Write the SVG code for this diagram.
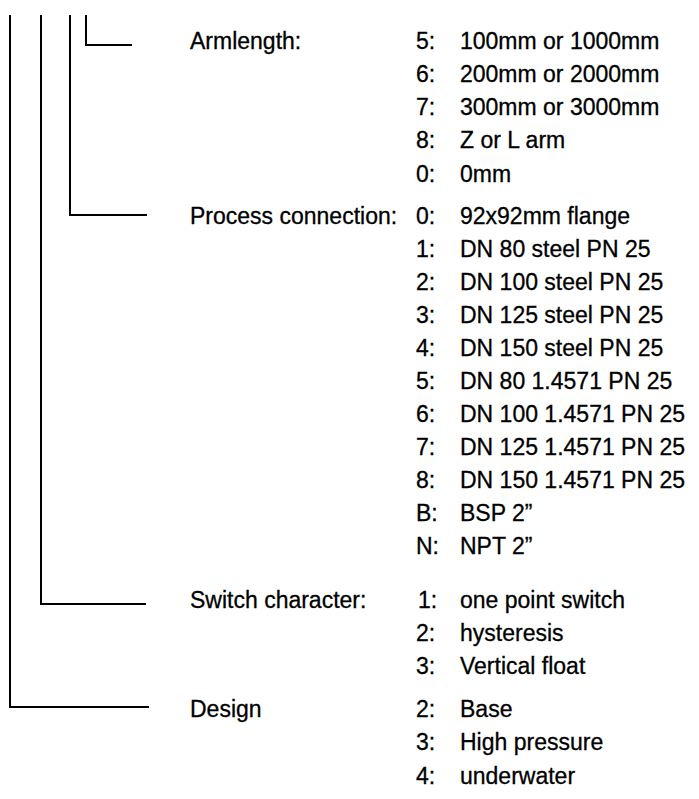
<svg xmlns="http://www.w3.org/2000/svg" width="699" height="799" viewBox="0 0 699 799">
<style>
.ln{fill:none;stroke:#000;stroke-width:2}
text{font-family:"Liberation Sans",Arial,sans-serif;font-size:23px;fill:#000;stroke:#000;stroke-width:0.3}
</style>
<rect width="699" height="799" fill="#fff"/>
<g id="connectors">
<polyline class="ln" points="86,15 86,45 132,45"/>
<polyline class="ln" points="70,15 70,215 147,215"/>
<polyline class="ln" points="41,15 41,604 146,604"/>
<polyline class="ln" points="10,15 10,707 149,707"/>
</g>
<g id="armlength">
<text x="190" y="49">Armlength:</text>
<text x="416" y="49">5:</text><text x="460" y="49">100mm or 1000mm</text>
<text x="416" y="82">6:</text><text x="460" y="82">200mm or 2000mm</text>
<text x="416" y="115">7:</text><text x="460" y="115">300mm or 3000mm</text>
<text x="416" y="148">8:</text><text x="460" y="148">Z or L arm</text>
<text x="416" y="182">0:</text><text x="460" y="182">0mm</text>
</g>
<g id="process">
<text x="190" y="224">Process connection:</text>
<text x="416" y="224">0:</text><text x="460" y="224">92x92mm flange</text>
<text x="416" y="257">1:</text><text x="460" y="257">DN 80 steel PN 25</text>
<text x="416" y="290">2:</text><text x="460" y="290">DN 100 steel PN 25</text>
<text x="416" y="323">3:</text><text x="460" y="323">DN 125 steel PN 25</text>
<text x="416" y="356">4:</text><text x="460" y="356">DN 150 steel PN 25</text>
<text x="416" y="389">5:</text><text x="460" y="389">DN 80 1.4571 PN 25</text>
<text x="416" y="422">6:</text><text x="460" y="422">DN 100 1.4571 PN 25</text>
<text x="416" y="455">7:</text><text x="460" y="455">DN 125 1.4571 PN 25</text>
<text x="416" y="488">8:</text><text x="460" y="488">DN 150 1.4571 PN 25</text>
<text x="416" y="521">B:</text><text x="460" y="521">BSP 2”</text>
<text x="416" y="554">N:</text><text x="460" y="554">NPT 2”</text>
</g>
<g id="switch">
<text x="190" y="608">Switch character:</text>
<text x="418" y="608">1:</text><text x="460" y="608">one point switch</text>
<text x="416" y="641">2:</text><text x="460" y="641">hysteresis</text>
<text x="416" y="674">3:</text><text x="460" y="674">Vertical float</text>
</g>
<g id="design">
<text x="190" y="717">Design</text>
<text x="416" y="717">2:</text><text x="460" y="717">Base</text>
<text x="416" y="750">3:</text><text x="460" y="750">High pressure</text>
<text x="416" y="784">4:</text><text x="460" y="784">underwater</text>
</g>
</svg>
